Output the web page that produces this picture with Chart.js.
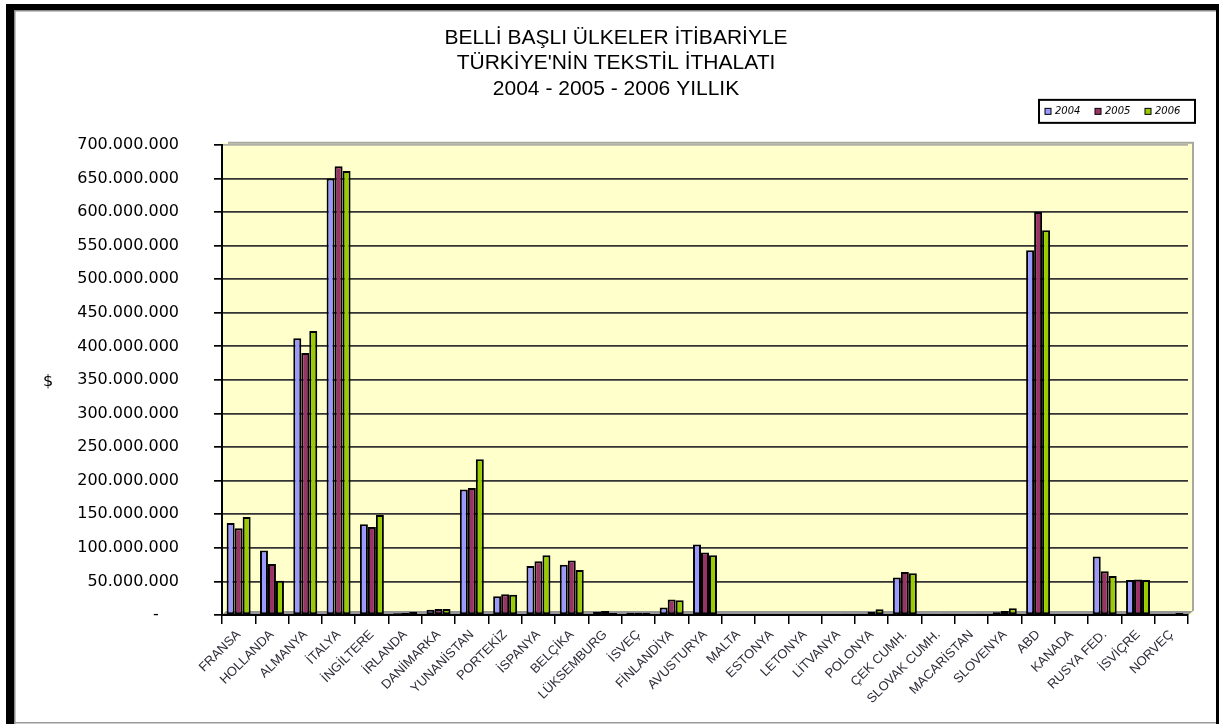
<!DOCTYPE html>
<html>
<head>
<meta charset="utf-8">
<script src="https://cdn.jsdelivr.net/npm/chart.js@4/dist/chart.umd.min.js"></script>
<style>
  html, body { margin: 0; padding: 0; background: #fff; }
  #wrap { position: relative; width: 1227px; height: 724px; }
</style>
</head>
<body>
<div id="wrap"><canvas id="c" width="1227" height="724"></canvas></div>
<script>
// Countries (category axis)
const countries = ['FRANSA', 'HOLLANDA', 'ALMANYA', 'İTALYA', 'İNGİLTERE', 'İRLANDA', 'DANİMARKA',
  'YUNANİSTAN', 'PORTEKİZ', 'İSPANYA', 'BELÇİKA', 'LÜKSEMBURG', 'İSVEÇ', 'FİNLANDİYA', 'AVUSTURYA',
  'MALTA', 'ESTONYA', 'LETONYA', 'LİTVANYA', 'POLONYA', 'ÇEK CUMH.', 'SLOVAK CUMH.', 'MACARİSTAN',
  'SLOVENYA', 'ABD', 'KANADA', 'RUSYA FED.', 'İSVİÇRE', 'NORVEÇ'];

// Textile imports in US dollars, per year
const imports2004 = [137000000, 96000000, 412000000, 650000000, 135000000, 2500000, 8000000,
  187000000, 28000000, 73000000, 75000000, 5000000, 3500000, 11000000, 105000000,
  1000000, 500000, 500000, 1000000, 2000000, 56000000, 1000000, 1500000,
  4000000, 543000000, 1500000, 87000000, 52000000, 1500000];
const imports2005 = [129000000, 76000000, 390000000, 668000000, 131000000, 3000000, 9000000,
  189000000, 31000000, 80000000, 81000000, 6000000, 3500000, 23000000, 93000000,
  1000000, 500000, 500000, 1500000, 5000000, 64000000, 1500000, 1500000,
  6000000, 600000000, 1500000, 65000000, 53000000, 2000000];
const imports2006 = [146000000, 51000000, 423000000, 661000000, 149000000, 5000000, 9000000,
  232000000, 30000000, 89000000, 67000000, 3000000, 3500000, 22000000, 89000000,
  1000000, 500000, 500000, 2000000, 8500000, 62000000, 2000000, 2000000,
  10000000, 573000000, 1500000, 58000000, 52000000, 3000000];

const seriesLabels = ['2004', '2005', '2006'];
const seriesColors = ['#9999FF', '#993366', '#99CC00'];
const titleLines = ['BELLİ BAŞLI ÜLKELER İTİBARİYLE', "TÜRKİYE'NİN TEKSTİL İTHALATI", '2004 - 2005 - 2006 YILLIK'];
const yAxisLabel = '$';
const yMax = 700000000;
const yStep = 50000000;

// 1.234.567 style grouping, zero shown as a dash
function formatDollars(v) {
  if (v === 0) return '-    ';
  return String(Math.round(v)).replace(/\B(?=(\d{3})+(?!\d))/g, '.');
}

// Page frame and the yellow back wall / grey floor behind the bars
const backdrop = {
  id: 'backdrop',
  beforeDraw(chart) {
    const ctx = chart.ctx;
    const a = chart.chartArea;
    ctx.save();
    ctx.fillStyle = '#fff';
    ctx.fillRect(0, 0, chart.width, chart.height);
    // frame
    ctx.fillStyle = '#000';
    ctx.fillRect(6, 4, 8, chart.height - 4);
    ctx.fillRect(6, 4, 1213, 6);
    ctx.fillRect(1216, 4, 3, chart.height - 4);
    ctx.fillStyle = '#8a8a8a';
    ctx.fillRect(14, 10, 1202, 1.5);
    ctx.fillRect(14, 10, 1.5, chart.height - 10);
    ctx.fillStyle = '#9a9a9a';
    ctx.fillRect(14, 722, 1202, 1.5);
    // back wall
    ctx.fillStyle = '#FFFFCC';
    ctx.fillRect(a.left, a.top - 2, a.right - a.left + 5, a.bottom - a.top + 2);
    ctx.strokeStyle = '#a8a8a0';
    ctx.lineWidth = 2;
    ctx.beginPath();
    ctx.moveTo(a.left + 6, a.top - 2);
    ctx.lineTo(a.right + 5, a.top - 2);
    ctx.lineTo(a.right + 5, a.bottom - 4);
    ctx.stroke();
    // floor
    ctx.fillStyle = '#979797';
    ctx.beginPath();
    ctx.moveTo(a.left, a.bottom);
    ctx.lineTo(a.left + 4, a.bottom - 4);
    ctx.lineTo(a.right + 5, a.bottom - 4);
    ctx.lineTo(a.right, a.bottom);
    ctx.closePath();
    ctx.fill();
    ctx.restore();
  },
  afterDraw(chart) {
    const ctx = chart.ctx;
    const a = chart.chartArea;
    ctx.save();
    // axis unit
    ctx.fillStyle = '#000';
    ctx.font = '16px "DejaVu Sans"';
    ctx.textAlign = 'center';
    ctx.textBaseline = 'middle';
    ctx.fillText(yAxisLabel, 48, (a.top + a.bottom) / 2 + 2);

    // boxed legend above the top-right corner of the plot
    const boxR = a.right + 7, boxT = a.top - 45, boxW = 156, boxH = 23;
    ctx.fillStyle = '#fff';
    ctx.fillRect(boxR - boxW, boxT, boxW, boxH);
    ctx.strokeStyle = '#000';
    ctx.lineWidth = 2;
    ctx.strokeRect(boxR - boxW, boxT, boxW, boxH);
    ctx.font = 'italic 10px "DejaVu Sans"';
    ctx.textAlign = 'left';
    let x = boxR - boxW + 6;
    const cy = boxT + boxH / 2;
    chart.data.datasets.forEach((ds) => {
      ctx.fillStyle = ds.backgroundColor;
      ctx.fillRect(x, cy - 3, 6, 6);
      ctx.strokeStyle = '#000';
      ctx.lineWidth = 1;
      ctx.strokeRect(x, cy - 3, 6, 6);
      ctx.fillStyle = '#000';
      ctx.fillText(ds.label, x + 10, cy + 0.5);
      x += 50;
    });
    ctx.restore();
  }
};

const seriesData = [imports2004, imports2005, imports2006];

new Chart(document.getElementById('c'), {
  type: 'bar',
  data: {
    labels: countries,
    datasets: seriesData.map((d, i) => ({
      label: seriesLabels[i],
      data: d,
      backgroundColor: seriesColors[i],
      borderColor: '#000',
      borderWidth: 2,
      borderSkipped: false
    }))
  },
  options: {
    responsive: false,
    animation: false,
    layout: { padding: { left: 44, right: 39, top: 0, bottom: 0 } },
    datasets: { bar: { categoryPercentage: 0.72, barPercentage: 1.0 } },
    plugins: {
      legend: { display: false },
      tooltip: { enabled: false },
      title: {
        display: true,
        text: titleLines,
        color: '#000',
        font: { family: 'Liberation Sans', size: 21, weight: 'normal', lineHeight: 1.22 },
        padding: { top: 25, bottom: 43 }
      }
    },
    scales: {
      x: {
        grid: { display: true, drawOnChartArea: false, drawTicks: true, tickLength: 9, color: '#000', lineWidth: 1.5, offset: true },
        border: { color: '#000', width: 2 },
        ticks: {
          autoSkip: false, minRotation: 45, maxRotation: 45, padding: 3,
          color: '#2e2e3a',
          font: { family: 'Liberation Sans', size: 13 }
        },
        afterFit(s) { s.height = 109; }
      },
      y: {
        min: 0,
        max: yMax,
        ticks: {
          stepSize: yStep,
          padding: 35,
          color: '#000',
          font: { family: 'DejaVu Sans', size: 16 },
          callback: (v) => formatDollars(v)
        },
        grid: {
          color: (c) => (c.tick && c.tick.value === yMax) ? '#b0b0a8' : '#333',
          lineWidth: 1.7,
          tickLength: 8,
          tickColor: '#000'
        },
        border: { color: '#000', width: 2 },
        afterFit(s) { s.width = 178; }
      }
    }
  },
  plugins: [backdrop]
});
</script>
</body>
</html>
